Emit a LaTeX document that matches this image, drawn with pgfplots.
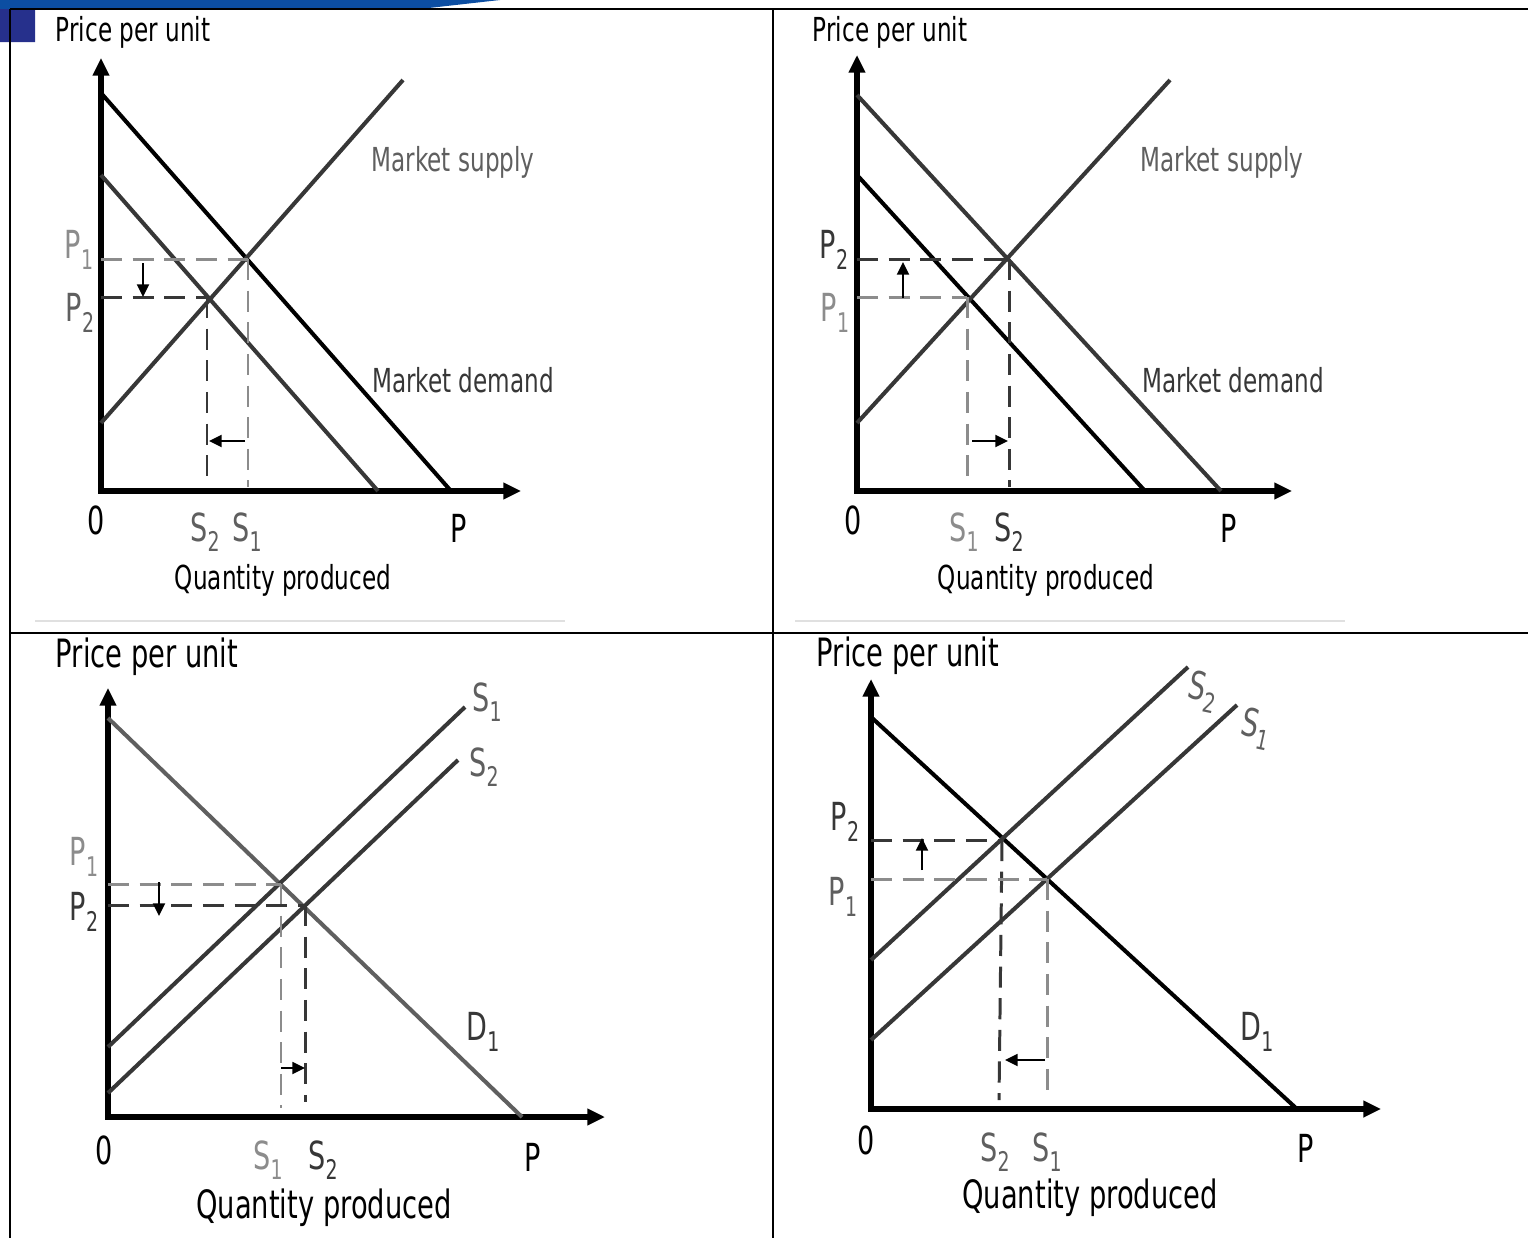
\documentclass[border=0pt]{standalone}
\usepackage{pgfplots}
\pgfplotsset{compat=1.18}
\usepackage{fontspec}
\setmainfont{DejaVu Sans}[FakeStretch=0.7]
\usetikzlibrary{arrows.meta}
\definecolor{dk}{RGB}{55,55,55}
\definecolor{md}{RGB}{95,95,95}
\definecolor{lt}{RGB}{140,140,140}
\definecolor{bandblue}{RGB}{12,78,162}
\definecolor{navy}{RGB}{38,48,140}
\newcommand{\lab}[2]{#1\raisebox{-0.5ex}{\scalebox{0.7}{#2}}}
\newcommand{\fa}{\fontsize{9.4}{11}\selectfont}
\newcommand{\fb}{\fontsize{11.1}{13}\selectfont}
\newcommand{\fl}{\fontsize{11}{13}\selectfont}
\begin{document}
\begin{tikzpicture}
\begin{axis}[
  width=15.28cm, height=12.38cm, scale only axis,
  xmin=0, xmax=1528, ymin=0, ymax=1238, y dir=reverse,
  hide axis, clip=false,
  axisline/.style={black, line width=1.45pt, {Triangle[length=5pt,width=4.5pt]}-{Triangle[length=5pt,width=4.5pt]}},
  curve/.style={line width=1.15pt},
  dsh/.style={line width=0.85pt, dash pattern=on 6pt off 3pt},
  sarr/.style={black, line width=0.6pt, -{Triangle[length=3.6pt,width=3.4pt]}},
]
% frame and decorations
\addplot[fill=bandblue, draw=none] coordinates {(0,0) (500,0) (420,9) (0,9) (0,0)};
\addplot[fill=navy, draw=none] coordinates {(0,9) (35,9) (35,42) (0,42) (0,9)};
\addplot[black, line width=0.6pt] coordinates {(10,9) (1528,9)};
\addplot[black, line width=0.6pt] coordinates {(10,9) (10,1238)};
\addplot[black, line width=0.6pt] coordinates {(773,9) (773,1238)};
\addplot[black, line width=0.6pt] coordinates {(10,633) (1528,633)};
\addplot[black!12, line width=0.5pt] coordinates {(35,621) (565,621)};
\addplot[black!12, line width=0.5pt] coordinates {(795,621) (1345,621)};

% ---------- Panel 1 ----------
\addplot[axisline] coordinates {(101,58) (101,491) (521,491)};
\addplot[curve, black] coordinates {(101,93) (451,491)};
\addplot[curve, dk] coordinates {(101,175) (378,491)};
\addplot[curve, dk] coordinates {(101,423) (403,80)};
\addplot[dsh, lt] coordinates {(101,259) (248,259)};
\addplot[dsh, lt] coordinates {(248,259) (248,487)};
\addplot[dsh, dk] coordinates {(101,297) (207,297)};
\addplot[dsh, dk] coordinates {(207,297) (207,478)};
\addplot[sarr] coordinates {(143,263) (143,297)};
\addplot[sarr] coordinates {(245,441) (209,441)};
\node[font=\fa] at (axis cs:133,32) {Price per unit};
\node[font=\fl, text=lt] at (axis cs:79,250) {\lab{P}{1}};
\node[font=\fl, text=md] at (axis cs:80,313) {\lab{P}{2}};
\node[font=\fl] at (axis cs:96,520) {0};
\node[font=\fl, text=md] at (axis cs:205,532) {\lab{S}{2}};
\node[font=\fl, text=md] at (axis cs:247,532) {\lab{S}{1}};
\node[font=\fl] at (axis cs:459,528) {P};
\node[font=\fa] at (axis cs:283,580) {Quantity produced};
\node[font=\fa, text=md] at (axis cs:453,162) {Market supply};
\node[font=\fa, text=dk] at (axis cs:463,380) {Market demand};

% ---------- Panel 2 ----------
\addplot[axisline] coordinates {(857,55) (857,491) (1292,491)};
\addplot[curve, dk] coordinates {(857,95) (1221,491)};
\addplot[curve, black] coordinates {(857,175) (1145,491)};
\addplot[curve, dk] coordinates {(857,423) (1170,80)};
\addplot[dsh, dk] coordinates {(857,259) (1009,259)};
\addplot[dsh, dk] coordinates {(1009,259) (1009,487)};
\addplot[dsh, lt] coordinates {(857,297) (967,297)};
\addplot[dsh, lt] coordinates {(967,297) (967,478)};
\addplot[sarr] coordinates {(903,298) (903,262)};
\addplot[sarr] coordinates {(972,441) (1008,441)};
\node[font=\fa] at (axis cs:890,32) {Price per unit};
\node[font=\fl, text=dk] at (axis cs:834,250) {\lab{P}{2}};
\node[font=\fl, text=lt] at (axis cs:835,313) {\lab{P}{1}};
\node[font=\fl] at (axis cs:853,520) {0};
\node[font=\fl, text=lt] at (axis cs:964,532) {\lab{S}{1}};
\node[font=\fl, text=dk] at (axis cs:1009,532) {\lab{S}{2}};
\node[font=\fl] at (axis cs:1229,528) {P};
\node[font=\fa] at (axis cs:1046,580) {Quantity produced};
\node[font=\fa, text=md] at (axis cs:1222,162) {Market supply};
\node[font=\fa, text=dk] at (axis cs:1233,380) {Market demand};

% ---------- Panel 3 ----------
\addplot[axisline] coordinates {(108,688) (108,1117) (605,1117)};
\addplot[curve, md] coordinates {(108,718) (522,1117)};
\addplot[curve, dk] coordinates {(108,1047) (465,707)};
\addplot[curve, dk] coordinates {(108,1093) (458,760)};
\addplot[dsh, lt] coordinates {(108,884) (281,884)};
\addplot[dsh, lt] coordinates {(281,884) (281,1108)};
\addplot[dsh, dk] coordinates {(108,905) (305,905)};
\addplot[dsh, dk] coordinates {(305,905) (305,1102)};
\addplot[sarr] coordinates {(159,882) (159,916)};
\addplot[sarr] coordinates {(281,1068) (305,1068)};
\node[font=\fb] at (axis cs:147,657) {Price per unit};
\node[font=\fl, text=lt] at (axis cs:84,857) {\lab{P}{1}};
\node[font=\fl, text=dk] at (axis cs:84,912) {\lab{P}{2}};
\node[font=\fl] at (axis cs:104,1150) {0};
\node[font=\fl, text=lt] at (axis cs:268,1160) {\lab{S}{1}};
\node[font=\fl, text=dk] at (axis cs:323,1160) {\lab{S}{2}};
\node[font=\fl] at (axis cs:533,1157) {P};
\node[font=\fb] at (axis cs:324,1208) {Quantity produced};
\node[font=\fl, text=md] at (axis cs:487,702) {\lab{S}{1}};
\node[font=\fl, text=md] at (axis cs:484,767) {\lab{S}{2}};
\node[font=\fl, text=dk] at (axis cs:483,1032) {\lab{D}{1}};

% ---------- Panel 4 ----------
\addplot[axisline] coordinates {(871,679) (871,1109) (1381,1109)};
\addplot[curve, black] coordinates {(871,717) (1297,1109)};
\addplot[curve, dk] coordinates {(871,960) (1188,667)};
\addplot[curve, dk] coordinates {(871,1040) (1237,705)};
\addplot[dsh, dk] coordinates {(871,840) (1003,840)};
\addplot[dsh, dk] coordinates {(1002,840) (999,1100)};
\addplot[dsh, lt] coordinates {(871,879) (1047,879)};
\addplot[dsh, lt] coordinates {(1047,879) (1047,1100)};
\addplot[sarr] coordinates {(922,870) (922,838)};
\addplot[sarr] coordinates {(1045,1060) (1005,1060)};
\node[font=\fb] at (axis cs:908,656) {Price per unit};
\node[font=\fl, text=dk] at (axis cs:845,822) {\lab{P}{2}};
\node[font=\fl, text=md] at (axis cs:843,897) {\lab{P}{1}};
\node[font=\fl] at (axis cs:866,1140) {0};
\node[font=\fl, text=md] at (axis cs:995,1152) {\lab{S}{2}};
\node[font=\fl, text=md] at (axis cs:1047,1152) {\lab{S}{1}};
\node[font=\fl] at (axis cs:1306,1148) {P};
\node[font=\fb] at (axis cs:1090,1198) {Quantity produced};
\node[font=\fl, text=md, rotate=-12] at (axis cs:1203,692) {\lab{S}{2}};
\node[font=\fl, text=md, rotate=-12] at (axis cs:1256,729) {\lab{S}{1}};
\node[font=\fl, text=dk] at (axis cs:1257,1032) {\lab{D}{1}};
\end{axis}
\pgfresetboundingbox
\path (0,0) rectangle (15.28cm,12.38cm);
\end{tikzpicture}
\end{document}
